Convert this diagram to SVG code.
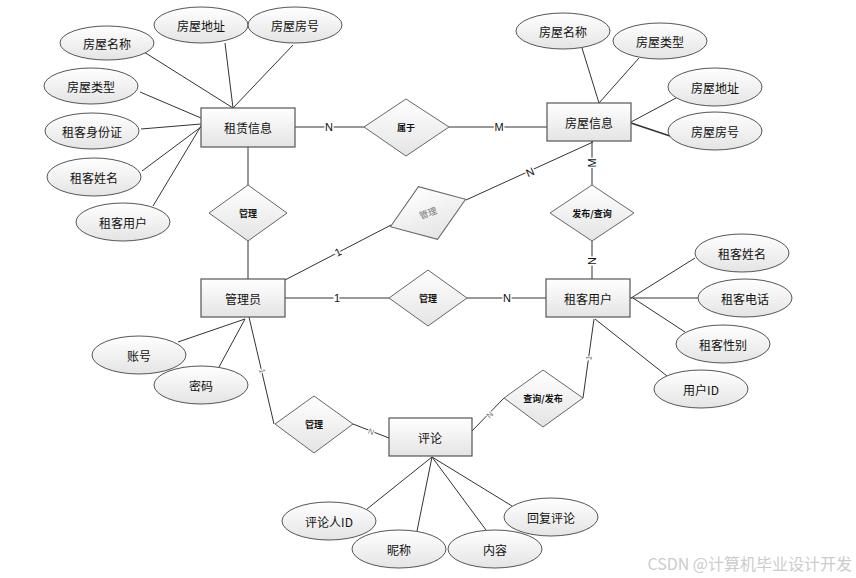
<svg xmlns="http://www.w3.org/2000/svg" width="856" height="578" viewBox="0 0 856 578">
<defs>
<linearGradient id="g" x1="0" y1="0" x2="0" y2="1">
<stop offset="0" stop-color="#ffffff"/>
<stop offset="1" stop-color="#e4e4e4"/>
</linearGradient>
<style>
.ent{fill:url(#g);stroke:#555;stroke-width:1.2}
.att{fill:url(#g);stroke:#555;stroke-width:1}
.rel{fill:url(#g);stroke:#666;stroke-width:1}
.t{font-family:"Noto Sans CJK SC","Liberation Sans",sans-serif;font-size:12px;fill:#111;text-anchor:middle;dominant-baseline:central}
.rt{font-family:"Noto Sans CJK SC","Liberation Sans",sans-serif;font-size:9px;font-weight:bold;fill:#111;text-anchor:middle;dominant-baseline:central}
.c line{stroke:#333;stroke-width:1}
.lb{font-family:"Liberation Sans",sans-serif;font-size:11px;fill:#111;text-anchor:middle;dominant-baseline:central;stroke:#fff;stroke-width:3;paint-order:stroke}
.sm{font-family:"Liberation Sans",sans-serif;font-size:8px;fill:#777;text-anchor:middle;dominant-baseline:central;stroke:#fff;stroke-width:2;paint-order:stroke}
</style>
</defs>
<rect width="856" height="578" fill="#fff"/>
<g id="connectors" class="c">
<line x1="144" y1="52" x2="233" y2="108"/>
<line x1="225" y1="43" x2="233" y2="108"/>
<line x1="293" y1="45" x2="233" y2="108"/>
<line x1="140" y1="92" x2="201" y2="118"/>
<line x1="141" y1="129" x2="201" y2="124"/>
<line x1="142" y1="171" x2="201" y2="127"/>
<line x1="153" y1="206" x2="201" y2="126"/>
<line x1="295" y1="127" x2="364" y2="127"/>
<line x1="449" y1="127" x2="547" y2="127"/>
<line x1="248" y1="147" x2="248" y2="185"/>
<line x1="248" y1="241" x2="248" y2="279"/>
<line x1="582" y1="48" x2="599" y2="103"/>
<line x1="639" y1="58" x2="599" y2="103"/>
<line x1="676" y1="98" x2="631" y2="122"/>
<line x1="670" y1="136" x2="631" y2="123" style="stroke-width:1.6"/>
<line x1="285" y1="280" x2="391" y2="225"/>
<line x1="466" y1="200" x2="593" y2="142"/>
<line x1="592" y1="141" x2="592" y2="185"/>
<line x1="592" y1="241" x2="592" y2="279"/>
<line x1="285" y1="298" x2="389" y2="298"/>
<line x1="467" y1="298" x2="546" y2="298"/>
<line x1="695" y1="258" x2="631" y2="298"/>
<line x1="698" y1="298" x2="630" y2="298"/>
<line x1="685" y1="332" x2="633" y2="298"/>
<line x1="667" y1="376" x2="595" y2="319"/>
<line x1="594" y1="319" x2="583" y2="398"/>
<line x1="504" y1="398" x2="472" y2="431"/>
<line x1="249" y1="317" x2="274" y2="424"/>
<line x1="353" y1="424" x2="389" y2="438"/>
<line x1="178" y1="342" x2="245" y2="319"/>
<line x1="219" y1="367" x2="245" y2="319"/>
<line x1="367" y1="509" x2="432" y2="457"/>
<line x1="417" y1="531" x2="432" y2="457"/>
<line x1="486" y1="530" x2="432" y2="457"/>
<line x1="512" y1="506" x2="432" y2="457"/>
<text class="lb" x="329" y="127">N</text>
<text class="lb" x="499" y="127">M</text>
<text class="lb" x="530" y="172" transform="rotate(-24 530 172)">N</text>
<text class="lb" x="592" y="163" transform="rotate(-90 592 163)">M</text>
<text class="lb" x="592" y="261" transform="rotate(-90 592 261)">N</text>
<text class="lb" x="338" y="252" transform="rotate(-27 338 252)">1</text>
<text class="lb" x="337" y="298">1</text>
<text class="lb" x="507" y="298">N</text>
<text class="sm" x="262" y="371" transform="rotate(77 262 371)">1</text>
<text class="sm" x="371" y="432" transform="rotate(21 371 432)">N</text>
<text class="sm" x="490" y="415" transform="rotate(-46 490 415)">N</text>
<text class="sm" x="589" y="358" transform="rotate(-82 589 358)">1</text>
</g>
<g id="zulin"><rect class="ent" x="201" y="108" width="94" height="39"/><text class="t" x="248" y="127.5">租赁信息</text></g>
<g id="fangwu"><rect class="ent" x="547" y="103" width="84" height="38"/><text class="t" x="589" y="122">房屋信息</text></g>
<g id="guanliyuan"><rect class="ent" x="201" y="279" width="84" height="38"/><text class="t" x="243" y="298">管理员</text></g>
<g id="zukeyonghu"><rect class="ent" x="546" y="279" width="84" height="38"/><text class="t" x="588" y="298">租客用户</text></g>
<g id="pinglun"><rect class="ent" x="389" y="418" width="83" height="38"/><text class="t" x="430" y="437">评论</text></g>
<g id="shuyu"><polygon class="rel" points="364,127 406,99 449,127 406,156"/><text class="rt" x="406" y="127">属于</text></g>
<g id="guanli1"><polygon class="rel" points="209,213 248,185 287,213 248,241"/><text class="rt" x="248" y="213">管理</text></g>
<g id="guanli2" transform="rotate(-20 428 213)"><polygon class="rel" points="388,213 428,185 468,213 428,241"/><text class="t" x="428" y="213" style="font-size:9px;fill:#777">管理</text></g>
<g id="fabu"><polygon class="rel" points="550,213 592,185 634,213 592,241"/><text class="rt" x="592" y="213">发布/查询</text></g>
<g id="guanli3"><polygon class="rel" points="389,298 428,270 467,298 428,326"/><text class="rt" x="428" y="298">管理</text></g>
<g id="chaxun"><polygon class="rel" points="504,398 543,370 583,398 543,427"/><text class="rt" x="543" y="398">查询/发布</text></g>
<g id="guanli4"><polygon class="rel" points="275,424 314,396 353,424 314,453"/><text class="rt" x="314" y="424">管理</text></g>
<g id="a1"><ellipse class="att" cx="107" cy="43" rx="47" ry="17"/><text class="t" x="107" y="43">房屋名称</text></g>
<g id="a2"><ellipse class="att" cx="201" cy="25" rx="47" ry="18"/><text class="t" x="201" y="25">房屋地址</text></g>
<g id="a3"><ellipse class="att" cx="295" cy="25" rx="47" ry="18"/><text class="t" x="295" y="25">房屋房号</text></g>
<g id="a4"><ellipse class="att" cx="91" cy="86" rx="47" ry="18"/><text class="t" x="91" y="86">房屋类型</text></g>
<g id="a5"><ellipse class="att" cx="92" cy="131" rx="47" ry="18"/><text class="t" x="92" y="131">租客身份证</text></g>
<g id="a6"><ellipse class="att" cx="94" cy="177" rx="47" ry="19"/><text class="t" x="94" y="177">租客姓名</text></g>
<g id="a7"><ellipse class="att" cx="123" cy="222" rx="47" ry="19"/><text class="t" x="123" y="222">租客用户</text></g>
<g id="b1"><ellipse class="att" cx="563" cy="31" rx="47" ry="18"/><text class="t" x="563" y="31">房屋名称</text></g>
<g id="b2"><ellipse class="att" cx="660" cy="41" rx="47" ry="18"/><text class="t" x="660" y="41">房屋类型</text></g>
<g id="b3"><ellipse class="att" cx="715" cy="87" rx="47" ry="19"/><text class="t" x="715" y="87">房屋地址</text></g>
<g id="b4"><ellipse class="att" cx="715" cy="131" rx="47" ry="19"/><text class="t" x="715" y="131">房屋房号</text></g>
<g id="c1"><ellipse class="att" cx="742" cy="253" rx="47" ry="19"/><text class="t" x="742" y="253">租客姓名</text></g>
<g id="c2"><ellipse class="att" cx="745" cy="298" rx="47" ry="19"/><text class="t" x="745" y="298">租客电话</text></g>
<g id="c3"><ellipse class="att" cx="723" cy="344" rx="47" ry="19"/><text class="t" x="723" y="344">租客性别</text></g>
<g id="c4"><ellipse class="att" cx="701" cy="389" rx="47" ry="19"/><text class="t" x="701" y="389">用户ID</text></g>
<g id="d1"><ellipse class="att" cx="139" cy="355" rx="47" ry="19"/><text class="t" x="139" y="355">账号</text></g>
<g id="d2"><ellipse class="att" cx="201" cy="385" rx="47" ry="19"/><text class="t" x="201" y="385">密码</text></g>
<g id="e1"><ellipse class="att" cx="329" cy="521" rx="47" ry="19"/><text class="t" x="329" y="521">评论人ID</text></g>
<g id="e2"><ellipse class="att" cx="399" cy="549" rx="47" ry="19"/><text class="t" x="399" y="549">昵称</text></g>
<g id="e3"><ellipse class="att" cx="495" cy="549" rx="47" ry="19"/><text class="t" x="495" y="549">内容</text></g>
<g id="e4"><ellipse class="att" cx="551" cy="517" rx="47" ry="19"/><text class="t" x="551" y="517">回复评论</text></g>
<text x="852" y="563" style="font-family:'Noto Sans CJK SC','Liberation Sans',sans-serif;font-size:16px;fill:#cccccc;text-anchor:end;dominant-baseline:central">CSDN @计算机毕业设计开发</text>
</svg>
